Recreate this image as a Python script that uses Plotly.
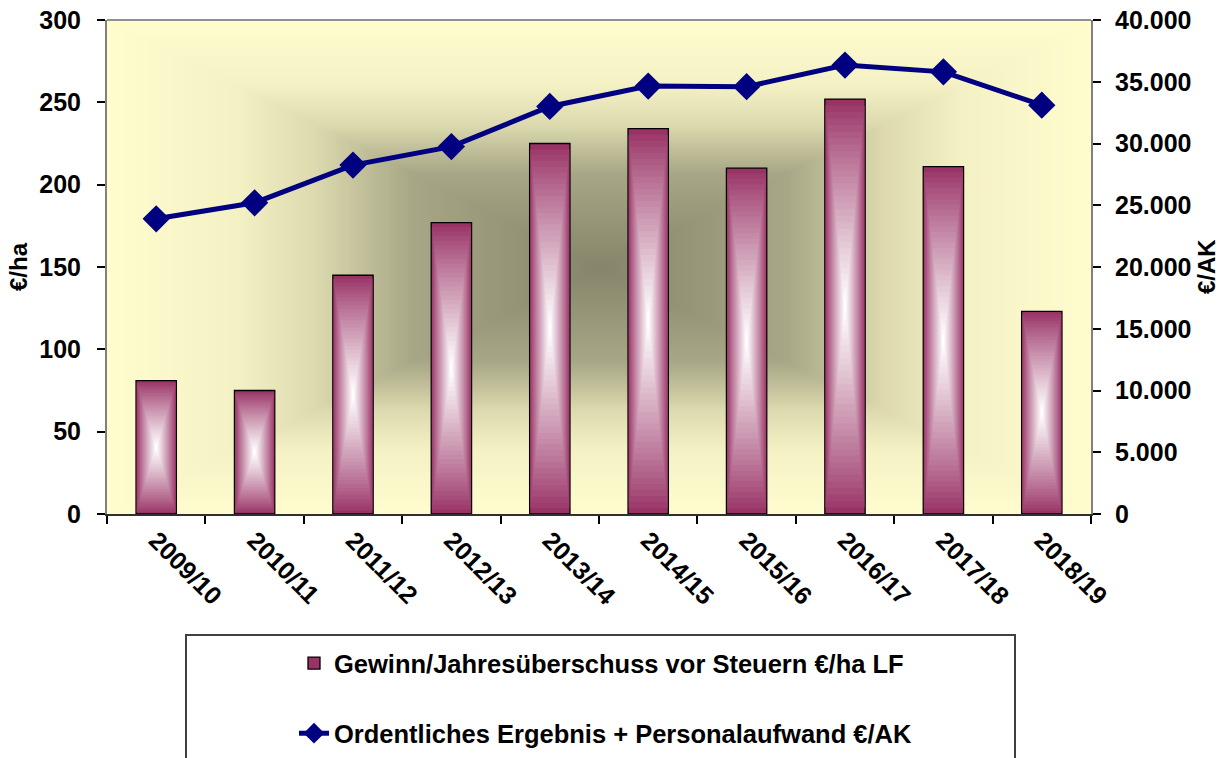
import numpy as np
import plotly.graph_objects as go

# ---------------- data ----------------
categories = ["2009/10", "2010/11", "2011/12", "2012/13", "2013/14",
              "2014/15", "2015/16", "2016/17", "2017/18", "2018/19"]
gewinn_ha = [81, 75, 145, 177, 225, 234, 210, 252, 211, 123]
ergebnis_ak = [23900, 25200, 28250, 29750, 33000, 34650, 34600, 36350, 35800, 33100]

bar_name = "Gewinn/Jahresüberschuss vor Steuern €/ha LF"
line_name = "Ordentliches Ergebnis + Personalaufwand €/AK"
left_ticks = [0, 50, 100, 150, 200, 250, 300]
right_ticks = [0, 5000, 10000, 15000, 20000, 25000, 30000, 35000, 40000]

# ---------------- styling ----------------
W, H = 1219, 758
ML, MR, MT, MB = 107, 128, 20, 244
PW = W - ML - MR
PH = H - MT - MB
FONT = "Liberation Sans, Arial, sans-serif"
bar_outer = np.array([0x99, 0x33, 0x66])
bar_inner = np.array([0xFF, 0xFF, 0xFF])
BAR_W = 0.41
LEVELS = 32


def px_x(px):
    return (px - ML) / PW


def px_y(py):
    return (H - MB - py) / PH


fig = go.Figure()

# background rectangular "from center" gradient (pure styling)
nx, ny = 320, 160
u = np.linspace(-1, 1, nx)
v = np.linspace(-1, 1, ny)
U, V = np.meshgrid(u, v)
Z = np.maximum(np.abs(U), np.abs(V))
fig.add_trace(go.Heatmap(
    x=np.linspace(0, 1, nx), y=np.linspace(0, 1, ny), z=Z,
    colorscale=[[0.0, "#86856a"], [0.38, "#a7a686"], [0.58, "#dcdaae"],
                [0.74, "#f4f2c5"], [1.0, "#fffdce"]],
    zmin=0, zmax=1, showscale=False, zsmooth="best", hoverinfo="skip",
    xaxis="x", yaxis="y"))

# bars with a rectangular gradient built from nested overlay bars
vals = np.array(gewinn_ha, dtype=float)
for i in range(LEVELS):
    s = 1 - i / LEVELS
    t = (i / (LEVELS - 1)) ** 0.9
    c = (bar_outer * (1 - t) + bar_inner * t).round().astype(int)
    color = "rgb(%d,%d,%d)" % tuple(c)
    fig.add_trace(go.Bar(
        x=categories, y=vals * s, base=vals * (1 - s) / 2,
        width=BAR_W * s,
        marker=dict(color=color,
                    line=dict(color="black", width=1.3 if i == 0 else 0)),
        name=bar_name, showlegend=(i == 0), legendgroup="bars",
        hoverinfo="skip", xaxis="x2", yaxis="y2"))

# line on secondary axis
fig.add_trace(go.Scatter(
    x=categories, y=ergebnis_ak, mode="lines+markers",
    line=dict(color="#000080", width=5),
    marker=dict(symbol="diamond", size=21, color="#000080"),
    name=line_name, legendgroup="line", hoverinfo="skip",
    xaxis="x2", yaxis="y3"))

tickfont = dict(family=FONT, size=25, color="black", weight="bold")
titlefont = dict(family=FONT, size=24, color="black", weight="bold")

fig.update_layout(
    width=W, height=H,
    margin=dict(l=ML, r=MR, t=MT, b=MB, autoexpand=False),
    paper_bgcolor="white", plot_bgcolor="white",
    separators=",.",
    barmode="overlay",
    showlegend=True,
    xaxis=dict(range=[0, 1], visible=False, domain=[0, 1], automargin=False),
    yaxis=dict(range=[0, 1], visible=False, domain=[0, 1], automargin=False),
    xaxis2=dict(overlaying="x", anchor="y2", type="category",
                range=[-0.5, 9.5], tickson="boundaries", ticks="outside",
                ticklen=8, tickwidth=2, tickcolor="black",
                showline=True, linecolor="#303030", linewidth=2,
                mirror=False, showgrid=False, tickangle=45,
                tickfont=tickfont, automargin=False),
    yaxis2=dict(overlaying="y", anchor="x2", side="left", range=[0, 300],
                tickvals=left_ticks, ticks="outside", ticklen=8, tickwidth=2,
                tickcolor="black", showline=True, linecolor="#808080",
                linewidth=2, showgrid=False, zeroline=False,
                tickfont=tickfont, ticklabelstandoff=11, automargin=False,
                ticklabeloverflow="allow"),
    yaxis3=dict(overlaying="y", anchor="x2", side="right", range=[0, 40000],
                tickvals=right_ticks, tickformat=",d", ticks="outside",
                ticklen=8, tickwidth=2, tickcolor="black", showline=True,
                linecolor="#808080", linewidth=2, showgrid=False,
                zeroline=False, tickfont=tickfont, ticklabelstandoff=9,
                automargin=False, ticklabeloverflow="allow"),
    legend=dict(x=px_x(294), xanchor="left",
                y=px_y(640), yanchor="top",
                font=dict(family=FONT, size=25.5, color="black", weight="bold"),
                bgcolor="rgba(0,0,0,0)", borderwidth=0,
                tracegroupgap=34, traceorder="grouped"),
    shapes=[
        # top border of plot area
        dict(type="line", xref="paper", yref="paper", x0=0, x1=1, y0=1, y1=1,
             line=dict(color="#909090", width=2)),
        # legend frame
        dict(type="rect", xref="paper", yref="paper",
             x0=px_x(186), x1=px_x(1015),
             y0=px_y(775), y1=px_y(635),
             line=dict(color="#404040", width=2), fillcolor="rgba(0,0,0,0)"),
    ],
    annotations=[
        dict(text="€/ha", xref="paper", yref="paper", x=px_x(18),
             xanchor="center", yanchor="middle",
             y=0.5, showarrow=False, textangle=-90, font=titlefont),
        dict(text="€/AK", xref="paper", yref="paper", x=px_x(1206),
             xanchor="center", yanchor="middle",
             y=0.5, showarrow=False, textangle=-90, font=titlefont),
    ],
)

fig.write_html(
    "out.html",
    config={"displayModeBar": False},
    post_script="document.body.style.margin='0';"
                "document.body.style.overflow='hidden';")
